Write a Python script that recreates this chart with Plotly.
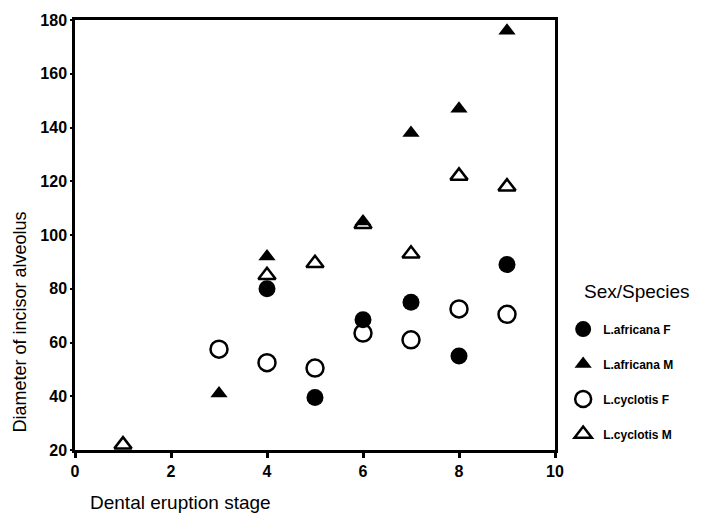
import plotly.graph_objects as go

# Data
af_F_x = [4, 5, 6, 7, 8, 9]
af_F_y = [80, 39.5, 68.5, 75, 55, 89]
af_M_x = [3, 4, 6, 7, 8, 9]
af_M_y = [41, 92, 105, 138, 147, 176]
cy_F_x = [3, 4, 5, 6, 7, 8, 9]
cy_F_y = [57.5, 52.5, 50.5, 63.5, 61, 72.5, 70.5]
cy_M_x = [1, 4, 5, 6, 7, 8, 9]
cy_M_y = [22, 85, 89.5, 104, 93, 122, 118]

x_ticks = [0, 2, 4, 6, 8, 10]
y_ticks = [20, 40, 60, 80, 100, 120, 140, 160, 180]

FONT = "Liberation Sans"

fig = go.Figure()
series = [
    ("L.africana F", af_F_x, af_F_y, "circle", 17, 0),
    ("L.africana M", af_M_x, af_M_y, "triangle-up", 15, 0),
    ("L.cyclotis F", cy_F_x, cy_F_y, "circle-open", 17, 2.5),
    ("L.cyclotis M", cy_M_x, cy_M_y, "triangle-up-open", 15, 2.5),
]
for i, (name, xs, ys, sym, sz, lw) in enumerate(series):
    fig.add_trace(go.Scatter(
        x=xs, y=ys, mode="markers", name=name, legendgroup=f"g{i}",
        cliponaxis=False,
        marker=dict(symbol=sym, size=sz, color="black",
                    line=dict(color="black", width=lw)),
    ))

fig.update_layout(
    width=702, height=522,
    margin=dict(l=75, r=147, t=15, b=72),
    paper_bgcolor="white", plot_bgcolor="white",
    font=dict(family=FONT, color="black"),
    showlegend=True,
    legend=dict(
        x=1.017, y=(450 - 313) / 435, xanchor="left", yanchor="top",
        font=dict(size=12, family=FONT, weight="bold"),
        tracegroupgap=16, itemsizing="trace",
        bgcolor="rgba(0,0,0,0)",
    ),
    xaxis=dict(
        range=[0, 10], tickvals=x_ticks, ticktext=[str(v) for v in x_ticks],
        showgrid=False, zeroline=False,
        showline=True, linecolor="black", linewidth=2.5, mirror=True,
        ticks="outside", ticklen=5, tickwidth=2.5, tickcolor="black",
        tickfont=dict(size=16, family=FONT, weight="bold"),
    ),
    yaxis=dict(
        range=[20, 180], tickvals=y_ticks, ticktext=[str(v) for v in y_ticks],
        showgrid=False, zeroline=False,
        showline=True, linecolor="black", linewidth=2.5, mirror=True,
        ticks="outside", ticklen=2, tickwidth=2, tickcolor="black",
        tickfont=dict(size=16, family=FONT, weight="bold"),
    ),
    annotations=[
        dict(text="Dental eruption stage", xref="paper", yref="paper",
             x=(88 - 75) / 480, y=-(503 - 450) / 435, xanchor="left", yanchor="middle",
             showarrow=False, font=dict(size=19, family=FONT)),
        dict(text="Diameter of incisor alveolus", xref="paper", yref="paper",
             x=-(75 - 20) / 480, y=(450 - 321) / 435, xanchor="center", yanchor="middle",
             textangle=-90, showarrow=False, font=dict(size=18, family=FONT)),
        dict(text="Sex/Species", xref="paper", yref="paper",
             x=(582 - 75) / 480, y=(450 - 290) / 435, xanchor="left", yanchor="middle",
             showarrow=False, font=dict(size=19, family=FONT)),
    ],
)

fig.write_html("out.html")
